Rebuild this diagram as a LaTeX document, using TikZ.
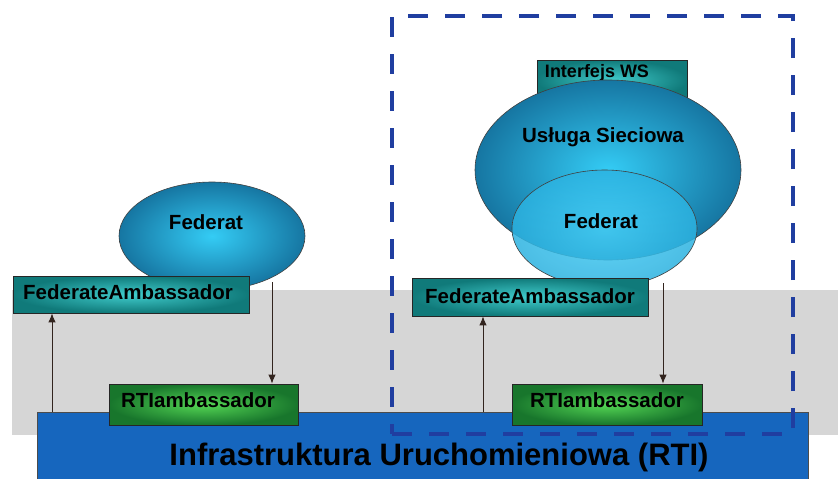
\documentclass[tikz,border=0pt]{standalone}
\usepackage{fontspec}
\setmainfont{Liberation Sans}
\usetikzlibrary{arrows.meta,shapes.geometric}
\definecolor{graybg}{RGB}{214,214,214}
\definecolor{rtiblue}{RGB}{22,102,190}
\definecolor{dashblue}{RGB}{32,62,160}
\definecolor{tealout}{RGB}{16,122,122}
\definecolor{tealin}{RGB}{64,204,204}
\definecolor{greenout}{RGB}{24,118,44}
\definecolor{greenin}{RGB}{84,214,84}
\definecolor{ellout}{RGB}{22,118,162}
\definecolor{ellin}{RGB}{52,204,245}
\definecolor{fedout}{RGB}{44,178,224}
\definecolor{fedin}{RGB}{70,206,246}
\definecolor{arrowc}{RGB}{50,36,30}
\begin{document}
\begin{tikzpicture}[x=1pt,y=-1pt,
  tealbox/.style={draw=black!85, line width=0.8pt, inner color=tealin, outer color=tealout, inner sep=0pt},
  greenbox/.style={draw=black!85, line width=0.8pt, inner color=greenin, outer color=greenout, inner sep=0pt},
  blob/.style={ellipse, draw=black!75, line width=0.6pt, inner color=ellin, outer color=ellout, inner sep=0pt},
  lbl/.style={font=\bfseries\fontsize{20.5}{20.5}\selectfont, inner sep=0pt, text=black},
  conn/.style={draw=arrowc, line width=0.9pt, -{Latex[length=9pt,width=7.5pt]}}]
\useasboundingbox (0,0) rectangle (838,479);
% gray band
\fill[graybg] (12,290) rectangle (838,435);
% RTI bar
\node[draw=black!70, line width=0.6pt, fill=rtiblue, minimum width=771pt, minimum height=70pt, inner sep=0pt] (rti) at (422.5,447) {};
\node[font=\bfseries\fontsize{31}{31}\selectfont, inner sep=0pt] (rtitext) at (439,457) {Infrastruktura Uruchomieniowa (RTI)};
% left federate
\node[blob, minimum width=186pt, minimum height=108pt] (fed1) at (212,236) {};
\node[lbl] (fed1t) at (206,222) {Federat};
\node[tealbox, minimum width=236pt, minimum height=37pt] (fa1) at (131,294.5) {};
\node[lbl] (fa1t) at (128,292) {FederateAmbassador};
\node[greenbox, minimum width=189pt, minimum height=41pt] (ra1) at (203.5,404.5) {};
\node[lbl] (ra1t) at (198,400) {RTIambassador};
% right web service
\node[tealbox, minimum width=150pt, minimum height=40pt] (ws) at (612,80) {};
\node[font=\bfseries\fontsize{18}{18}\selectfont, inner sep=0pt] (wst) at (597,73) {Interfejs WS};
\node[blob, minimum width=266pt, minimum height=180pt] (usl) at (608,170) {};
\node[lbl] (uslt) at (603,137) {Usługa Sieciowa};
\node[ellipse, draw=black!75, line width=0.6pt, inner color=fedin, outer color=fedout, fill opacity=0.85, minimum width=185pt, minimum height=117pt, inner sep=0pt] (fed2) at (604.5,228.5) {};
\node[lbl] (fed2t) at (601,221) {Federat};
\node[tealbox, minimum width=236pt, minimum height=38pt] (fa2) at (530,297) {};
\node[lbl] (fa2t) at (530,296) {FederateAmbassador};
\node[greenbox, minimum width=190pt, minimum height=41pt] (ra2) at (607,404.5) {};
\node[lbl] (ra2t) at (607,400) {RTIambassador};
% connectors
\coordinate (u1) at (52,412);
\coordinate (d1) at (272,282);
\coordinate (u2) at (483,412);
\coordinate (d2) at (663,283);
\draw[conn] (u1) -- (u1 |- fa1.south);
\draw[conn] (d1) -- (d1 |- ra1.north);
\draw[conn] (u2) -- (u2 |- fa2.south);
\draw[conn] (d2) -- (d2 |- ra2.north);
% dashed frame
\node[draw=dashblue, line width=4pt, dash pattern=on 20pt off 17pt, minimum width=401pt, minimum height=418pt, inner sep=0pt] (frame) at (592.5,225) {};
\end{tikzpicture}
\end{document}
